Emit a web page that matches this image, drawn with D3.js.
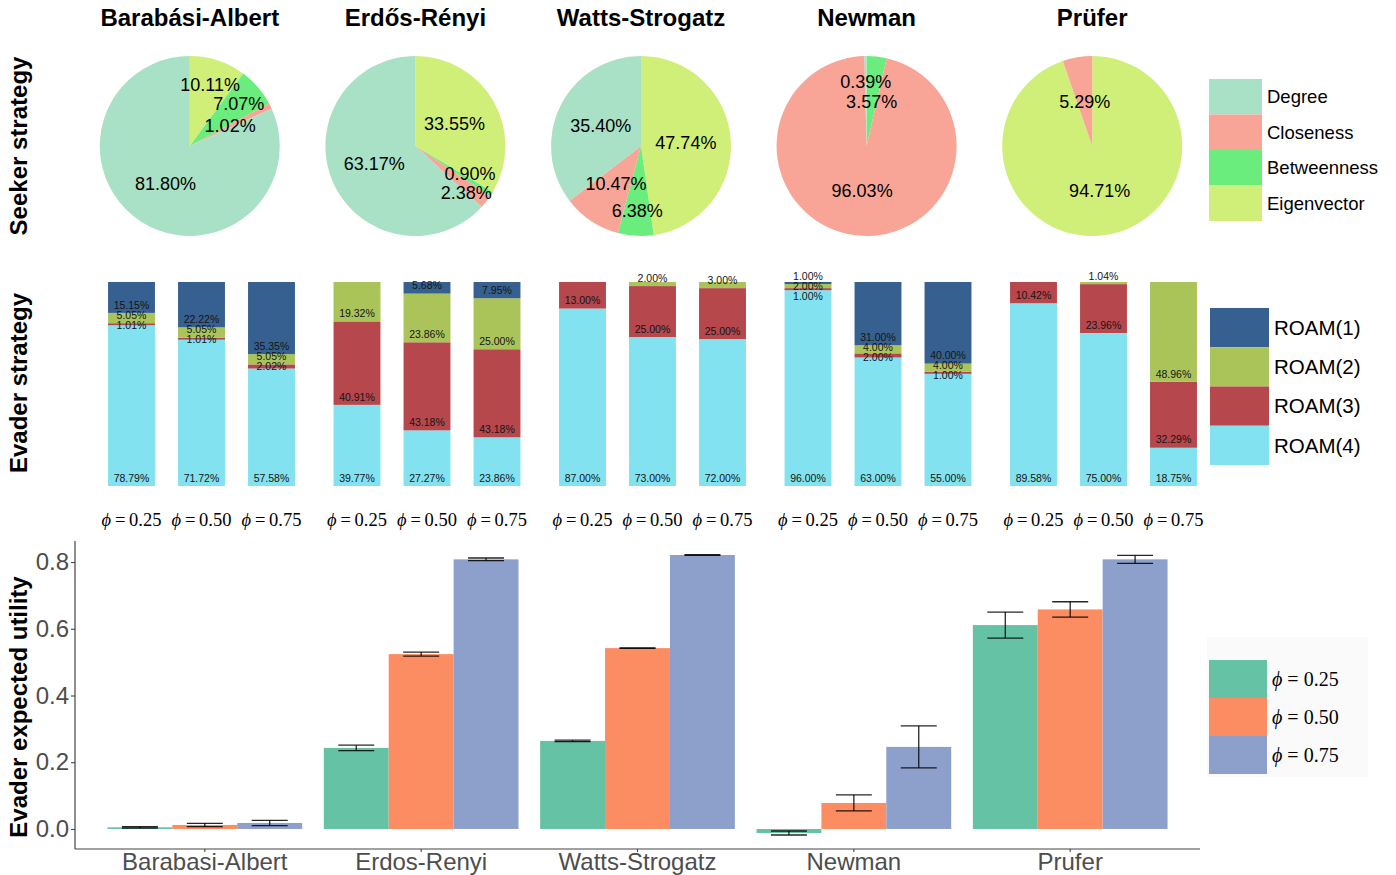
<!DOCTYPE html>
<html>
<head>
<meta charset="utf-8">
<script src="https://cdn.jsdelivr.net/npm/d3@7"></script>
<style>
  body { margin: 0; background: #fff; }
  svg { display: block; }
</style>
</head>
<body>
<svg id="chart" width="1396" height="875"></svg>
<script>
// ---- data ----
const networks = ["Barabási-Albert", "Erdős-Rényi", "Watts-Strogatz", "Newman", "Prüfer"];
const networksPlain = ["Barabasi-Albert", "Erdos-Renyi", "Watts-Strogatz", "Newman", "Prufer"];

// seeker strategy shares (%), order: Degree, Closeness, Betweenness, Eigenvector
const seekerStrategies = ["Degree", "Closeness", "Betweenness", "Eigenvector"];
const seekerBA      = [81.80, 1.02, 7.07, 10.11];
const seekerER      = [63.17, 2.38, 0.90, 33.55];
const seekerWS      = [35.40, 10.47, 6.38, 47.74];
const seekerNewman  = [0.39, 96.03, 3.57, 0];
const seekerPrufer  = [0, 5.29, 0, 94.71];
const seekerShares = [seekerBA, seekerER, seekerWS, seekerNewman, seekerPrufer];

// evader strategy shares (%), per phi, order: ROAM(1), ROAM(2), ROAM(3), ROAM(4)
const roamLevels = ["ROAM(1)", "ROAM(2)", "ROAM(3)", "ROAM(4)"];
const phiValues = ["0.25", "0.50", "0.75"];
const evaderBA     = [[15.15, 5.05, 1.01, 78.79], [22.22, 5.05, 1.01, 71.72], [35.35, 5.05, 2.02, 57.58]];
const evaderER     = [[0, 19.32, 40.91, 39.77], [5.68, 23.86, 43.18, 27.27], [7.95, 25.00, 43.18, 23.86]];
const evaderWS     = [[0, 0, 13.00, 87.00], [0, 2.00, 25.00, 73.00], [0, 3.00, 25.00, 72.00]];
const evaderNewman = [[1.00, 2.00, 1.00, 96.00], [31.00, 4.00, 2.00, 63.00], [40.00, 4.00, 1.00, 55.00]];
const evaderPrufer = [[0, 0, 10.42, 89.58], [0, 1.04, 23.96, 75.00], [0, 48.96, 32.29, 18.75]];
const evaderShares = [evaderBA, evaderER, evaderWS, evaderNewman, evaderPrufer];

// evader expected utility, mean and error half-width per phi
const utilityMean = [
  [0.005, 0.012, 0.018],
  [0.243, 0.524, 0.808],
  [0.264, 0.542, 0.821],
  [-0.012, 0.078, 0.246],
  [0.611, 0.658, 0.808]
];
const utilityErr = [
  [0.002, 0.005, 0.008],
  [0.008, 0.006, 0.004],
  [0.002, 0.001, 0.001],
  [0.006, 0.024, 0.063],
  [0.039, 0.023, 0.012]
];
const yTicks = [0.0, 0.2, 0.4, 0.6, 0.8];

// ---- styles ----
const seekerColors = ["#A8E1C5", "#F8A597", "#6AED7D", "#D0EF79"];
const roamColors = ["#35608F", "#ABC45A", "#B5474D", "#83E2F0"];
const phiColors = ["#66C2A5", "#FC8D62", "#8DA0CB"];
const SANS = "'Liberation Sans', Arial, sans-serif";
const SERIF = "'Liberation Serif', 'DejaVu Serif', serif";

const svg = d3.select("#chart");

function phiText(sel, value, sep) {
  sel.append("tspan").attr("font-style", "italic").text("\u03D5");
  sel.append("tspan").text(sep + "=" + sep + value);
}

// ---- row titles ----
const rowTitles = [["Seeker strategy", 146], ["Evader strategy", 383], ["Evader expected utility", 707]];
rowTitles.forEach(([t, cy]) => {
  svg.append("text")
    .attr("transform", `translate(27,${cy}) rotate(-90)`)
    .attr("text-anchor", "middle")
    .attr("font-family", SANS).attr("font-weight", "bold").attr("font-size", 24)
    .text(t);
});

// ---- top row: seeker pies ----
const pieX = d3.scaleBand().domain(networks).range([77, 1205]);
const pieCY = 146, R = 90;
const pie = d3.pie().sort(null).startAngle(0).endAngle(2 * Math.PI);
const arc = d3.arc().innerRadius(0).outerRadius(R);
const LW = 58, LH = 18;   // label box used for collision tests

function collide(A, B) {
  return Math.abs(A.x - B.x) < LW && Math.abs(A.y - B.y) < LH;
}

networks.forEach((net, i) => {
  const cx = pieX(net) + pieX.bandwidth() / 2;
  svg.append("text")
    .attr("x", cx).attr("y", 26)
    .attr("text-anchor", "middle")
    .attr("font-family", SANS).attr("font-weight", "bold").attr("font-size", 24)
    .text(net);

  // slices run clockwise from 12 o'clock in reverse legend order
  const entries = seekerStrategies.map((s, k) => ({ s, k, v: seekerShares[i][k] })).reverse();
  const arcs = pie.value(d => d.v)(entries);
  const g = svg.append("g").attr("transform", `translate(${cx},${pieCY})`);
  g.selectAll("path").data(arcs.filter(a => a.data.v > 0)).join("path")
    .attr("d", arc)
    .attr("fill", a => seekerColors[a.data.k]);

  // percentage labels start at half radius; colliding labels move outwards
  const labels = arcs.filter(a => a.data.v > 0).map(a => ({
    mid: (a.startAngle + a.endAngle) / 2, v: a.data.v, out: false, t: a.data.v.toFixed(2) + "%"
  }));
  const place = L => {
    const r = (L.out ? 0.72 : 0.5) * R;
    L.x = r * Math.sin(L.mid); L.y = -r * Math.cos(L.mid);
  };
  labels.forEach(place);
  let changed = true;
  while (changed) {
    changed = false;
    for (let p = 0; p < labels.length && !changed; p++) {
      for (let q = p + 1; q < labels.length && !changed; q++) {
        const A = labels[p], B = labels[q];
        if (!collide(A, B)) continue;
        const [small, big] = A.v < B.v ? [A, B] : [B, A];
        if (!small.out) { small.out = true; place(small); changed = true; }
        else if (!big.out) { big.out = true; place(big); changed = true; }
      }
    }
  }
  for (let it = 0; it < 20; it++) {
    labels.sort((a, b) => a.y - b.y);
    for (let p = 0; p < labels.length; p++) {
      for (let q = p + 1; q < labels.length; q++) {
        const A = labels[p], B = labels[q];
        if (collide(A, B)) {
          const push = (LH + 1 - (B.y - A.y)) / 2;
          A.y -= push; B.y += push;
        }
      }
    }
  }
  g.selectAll("text").data(labels).join("text")
    .attr("x", d => d.x).attr("y", d => d.y)
    .attr("dy", "0.35em")
    .attr("text-anchor", "middle")
    .attr("font-family", SANS).attr("font-size", 18)
    .attr("fill", "#000")
    .text(d => d.t);
});

// seeker legend
const legS = svg.append("g").attr("transform", "translate(1209,79)");
seekerStrategies.forEach((s, k) => {
  legS.append("rect").attr("x", 0).attr("y", k * 35.5).attr("width", 53).attr("height", 35.5)
    .attr("fill", seekerColors[k]);
  legS.append("text").attr("x", 58).attr("y", k * 35.5 + 17.75).attr("dy", "0.35em")
    .attr("font-family", SANS).attr("font-size", 18.5).text(s);
});

// ---- middle row: evader stacked bars ----
const grpX = d3.scaleBand().domain(networks).range([88.75, 1216.25]);
const barX = d3.scaleBand().domain(phiValues).range([-105, 105]).paddingInner(0.33).paddingOuter(0.165);
const yS = d3.scaleLinear().domain([0, 100]).range([486, 282]);
const stackOrder = [3, 2, 1, 0]; // ROAM(4) at the bottom

networks.forEach((net, i) => {
  const gc = grpX(net) + grpX.bandwidth() / 2;
  phiValues.forEach((phi, j) => {
    const vals = evaderShares[i][j];
    const x0 = gc + barX(phi);
    const bw = barX.bandwidth();
    let cum = 0;
    const segs = [];
    stackOrder.forEach(k => {
      const v = vals[k];
      segs.push({ k, v, lo: cum, hi: cum + v });
      cum += v;
    });
    const g = svg.append("g");
    g.selectAll("rect").data(segs.filter(d => d.v > 0)).join("rect")
      .attr("x", x0).attr("width", bw)
      .attr("y", d => yS(d.hi)).attr("height", d => yS(d.lo) - yS(d.hi))
      .attr("fill", d => roamColors[d.k]);

    // labels sit just above each segment's base, kept 10px apart from the top down
    const lab = segs.filter(d => d.v > 0).map(d => ({ k: d.k, y: yS(d.lo) - 8, t: d.v.toFixed(2) + "%" }))
      .sort((a, b) => a.k - b.k);
    for (let p = 1; p < lab.length; p++) {
      if (lab[p].y < lab[p - 1].y + 10) lab[p].y = lab[p - 1].y + 10;
    }
    g.selectAll("text").data(lab).join("text")
      .attr("x", x0 + bw / 2).attr("y", d => d.y).attr("dy", "0.35em")
      .attr("text-anchor", "middle")
      .attr("font-family", SANS).attr("font-size", 10.5)
      .attr("fill", "#151515")
      .text(d => d.t);

    const pt = svg.append("text")
      .attr("x", x0 + bw / 2).attr("y", 526)
      .attr("text-anchor", "middle")
      .attr("font-family", SERIF).attr("font-size", 18.5);
    phiText(pt, phi, "\u2009");
  });
});

// roam legend
const legR = svg.append("g").attr("transform", "translate(1210,308)");
roamLevels.forEach((s, k) => {
  legR.append("rect").attr("x", 0).attr("y", k * 39.25).attr("width", 59).attr("height", 39.25)
    .attr("fill", roamColors[k]);
  legR.append("text").attr("x", 64).attr("y", k * 39.25 + 19.6).attr("dy", "0.35em")
    .attr("font-family", SANS).attr("font-size", 20.5).text(s);
});

// ---- bottom row: expected utility ----
const ux = d3.scaleBand().domain(networksPlain).range([75, 1200]).paddingInner(0).paddingOuter(0.1);
const dodge = d3.scaleBand().domain(phiValues).range([0, ux.bandwidth() * 0.9]);
const uy = d3.scaleLinear().domain([-0.06, 0.863]).range([849, 541]);

const gU = svg.append("g");
networksPlain.forEach((net, i) => {
  const left = ux(net) + ux.bandwidth() * 0.05;
  phiValues.forEach((phi, j) => {
    const m = utilityMean[i][j], e = utilityErr[i][j];
    const bx = left + dodge(phi), bw = dodge.bandwidth();
    gU.append("rect")
      .attr("x", bx).attr("width", bw)
      .attr("y", uy(Math.max(0, m))).attr("height", Math.abs(uy(0) - uy(m)))
      .attr("fill", phiColors[j]);
    const cx = bx + bw / 2, hw = 18;
    const eb = gU.append("g").attr("stroke", "#000").attr("stroke-width", 1.3).attr("stroke-opacity", 0.85);
    eb.append("line").attr("x1", cx).attr("x2", cx).attr("y1", uy(m + e)).attr("y2", uy(m - e));
    eb.append("line").attr("x1", cx - hw).attr("x2", cx + hw).attr("y1", uy(m + e)).attr("y2", uy(m + e));
    eb.append("line").attr("x1", cx - hw).attr("x2", cx + hw).attr("y1", uy(m - e)).attr("y2", uy(m - e));
  });
});

// axes
const yAxis = d3.axisLeft(uy).tickValues(yTicks).tickFormat(d3.format(".1f")).tickSize(4).tickPadding(2);
const yG = svg.append("g").attr("transform", "translate(75,0)").call(yAxis);
const xAxis = d3.axisBottom(ux).tickSize(3).tickPadding(1);
const xG = svg.append("g").attr("transform", "translate(0,849)").call(xAxis);
[yG, xG].forEach(g => {
  g.select(".domain").attr("stroke", "#444").attr("stroke-width", 1.2);
  g.selectAll(".tick line").attr("stroke", "#444").attr("stroke-width", 1.1);
  g.selectAll(".tick text").attr("fill", "#4D4D4D").attr("font-family", SANS).attr("font-size", 24);
});
yG.select(".domain").attr("d", `M0,${uy.range()[1]}V${uy.range()[0]}`);
xG.select(".domain").attr("d", `M${ux.range()[0]},0H${ux.range()[1]}`);

// phi legend
const legP = svg.append("g").attr("transform", "translate(1207,637)");
legP.append("rect").attr("width", 161).attr("height", 140).attr("fill", "#FAFAFA");
phiValues.forEach((phi, j) => {
  legP.append("rect").attr("x", 2).attr("y", 23 + j * 38).attr("width", 58).attr("height", 38)
    .attr("fill", phiColors[j]);
  const t = legP.append("text").attr("x", 65).attr("y", 23 + j * 38 + 19).attr("dy", "0.35em")
    .attr("font-family", SERIF).attr("font-size", 20);
  phiText(t, phi, " ");
});
</script>
</body>
</html>
